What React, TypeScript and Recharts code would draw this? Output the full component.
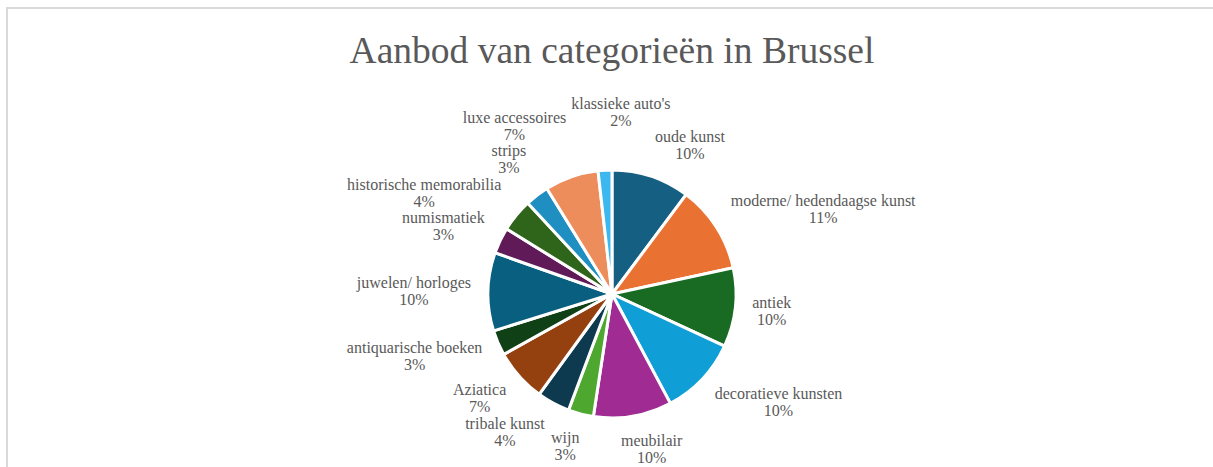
import React from 'react';
import { PieChart, Pie, Cell } from 'recharts';

const categories = [
  'oude kunst',
  'moderne/ hedendaagse kunst',
  'antiek',
  'decoratieve kunsten',
  'meubilair',
  'wijn',
  'tribale kunst',
  'Aziatica',
  'antiquarische boeken',
  'juwelen/ horloges',
  'numismatiek',
  'historische memorabilia',
  'strips',
  'luxe accessoires',
  "klassieke auto's",
];

const shares = [10.2, 11.4, 10.3, 10.3, 10.2, 3.3, 4.3, 6.9, 3.3, 10.2, 3.4, 4.3, 3.1, 7.0, 1.8];

const colors = [
  '#156082',
  '#E97132',
  '#196B24',
  '#0F9ED5',
  '#A02B93',
  '#4EA72E',
  '#0D3A4E',
  '#94410F',
  '#0F4016',
  '#095F80',
  '#5F1A57',
  '#2F641B',
  '#1F8EC0',
  '#ED8D5B',
  '#3CB8EE',
];

const title = 'Aanbod van categorieën in Brussel';

const data = categories.map((name, i) => ({ name, value: shares[i] }));

const FONT = "'Liberation Serif', 'Times New Roman', serif";
const LABEL_SIZE = 16;
const LINE = 17;
const GAP = 16;
const HIT_H = 16.5;

let ctx: CanvasRenderingContext2D | null = null;
function measure(text: string): number {
  if (!ctx) {
    const c = document.createElement('canvas');
    ctx = c.getContext('2d');
  }
  if (!ctx) return text.length * LABEL_SIZE * 0.45;
  ctx.font = `${LABEL_SIZE}px ${FONT}`;
  return ctx.measureText(text).width;
}

type Box = { x1: number; y1: number; x2: number; y2: number };
const placed: Box[] = [];

const clamp = (v: number) => Math.max(-1, Math.min(1, v));

const renderLabel = (props: any) => {
  const { cx, cy, midAngle, outerRadius, percent, name, index } = props;
  if (index === 0) placed.length = 0;
  const pctText = `${Math.round(percent * 100)}%`;
  const w = Math.max(measure(name), measure(pctText));
  const a = w / 2 + 1;
  const b = LINE;
  const rad = (midAngle * Math.PI) / 180;
  const c = Math.cos(rad);
  const sUp = Math.sin(rad);
  const r0 = outerRadius + GAP;
  const ax = cx + c * r0;
  const ay = cy - sUp * r0;
  const bx = ax + a * clamp(3 * c);
  const by = ay - b * clamp(sUp);

  const hitAt = (x: number, y: number): Box => ({ x1: x - a, y1: y - HIT_H, x2: x + a, y2: y + HIT_H });
  const valid = (bb: Box) => {
    for (const p of placed) {
      if (bb.x1 < p.x2 && bb.x2 > p.x1 && bb.y1 < p.y2 && bb.y2 > p.y1) return false;
    }
    const dx = Math.max(bb.x1 - cx, 0, cx - bb.x2);
    const dy = Math.max(bb.y1 - cy, 0, cy - bb.y2);
    return Math.hypot(dx, dy) >= outerRadius + 8;
  };
  const dirs: [number, number][] = [
    [c, -sUp],
    [0, -1],
    [0, 1],
    [1, 0],
    [-1, 0],
    [0.707, -0.707],
    [-0.707, -0.707],
    [0.707, 0.707],
    [-0.707, 0.707],
  ];
  let x = bx;
  let y = by;
  let found = false;
  for (let d = 0; d <= 200 && !found; d++) {
    for (const [dx, dy] of dirs) {
      const tx = bx + dx * d;
      const ty = by + dy * d;
      if (valid(hitAt(tx, ty))) {
        x = tx;
        y = ty;
        found = true;
        break;
      }
    }
  }
  placed.push(hitAt(x, y));

  return (
    <text
      x={x}
      y={y}
      textAnchor="middle"
      fill="#595959"
      fontFamily={FONT}
      fontSize={LABEL_SIZE}
    >
      <tspan x={x} y={y - LINE / 2} dominantBaseline="central">
        {name}
      </tspan>
      <tspan x={x} y={y + LINE / 2} dominantBaseline="central">
        {pctText}
      </tspan>
    </text>
  );
};

export default function App() {
  return (
    <div
      style={{
        position: 'absolute',
        left: 0,
        top: 0,
        width: 1213,
        height: 467,
        overflow: 'hidden',
        background: '#ffffff',
      }}
    >
      <div
        style={{
          position: 'absolute',
          left: 6,
          top: 7,
          width: 1240,
          height: 500,
          border: '2px solid #d9d9d9',
          boxSizing: 'border-box',
        }}
      />
      <div
        style={{
          position: 'absolute',
          left: 0,
          width: 1224,
          top: 29,
          textAlign: 'center',
          fontFamily: FONT,
          fontSize: 37.5,
          lineHeight: '44px',
          color: '#595959',
        }}
      >
        {title}
      </div>
      <div style={{ position: 'absolute', left: 0, top: 0 }}>
        <PieChart width={1213} height={467} margin={{ top: 0, right: 0, bottom: 0, left: 0 }}>
          <Pie
            data={data}
            dataKey="value"
            nameKey="name"
            cx={612}
            cy={294}
            outerRadius={124}
            startAngle={90}
            endAngle={-270}
            stroke="#ffffff"
            strokeWidth={3}
            label={renderLabel}
            labelLine={false}
            isAnimationActive={false}
          >
            {data.map((d, i) => (
              <Cell key={d.name} fill={colors[i]} />
            ))}
          </Pie>
        </PieChart>
      </div>
    </div>
  );
}
